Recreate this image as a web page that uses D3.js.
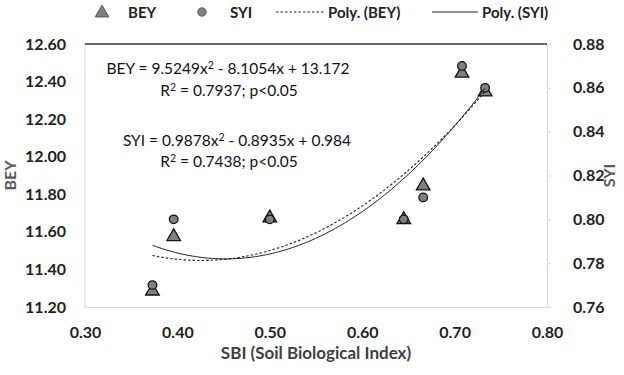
<!DOCTYPE html>
<html><head><meta charset="utf-8">
<script src="https://cdn.jsdelivr.net/npm/d3@7"></script>
<style>body{margin:0;background:#fff}svg{display:block}text{font-family:Lato,"Open Sans",sans-serif}</style>
</head><body>
<svg id="c" width="624" height="375"></svg>
<script>
// data
const sbi    = [0.373, 0.396, 0.500, 0.645, 0.666, 0.708, 0.733];
const bey    = [11.29, 11.58, 11.68, 11.67, 11.85, 12.45, 12.35];
const syi    = [0.770, 0.800, 0.800, 0.800, 0.810, 0.870, 0.860];
const beyPoly = [9.5249, -8.1054, 13.172];   // a, b, c of displayed trendline
const syiPoly = [0.9878, -0.8935, 0.984];
const xTicks = [0.30, 0.40, 0.50, 0.60, 0.70, 0.80];
const yTicksL = [11.20, 11.40, 11.60, 11.80, 12.00, 12.20, 12.40, 12.60];
const yTicksR = [0.76, 0.78, 0.80, 0.82, 0.84, 0.86, 0.88];
const equations = [
  ["BEY = 9.5249x", "2", " - 8.1054x + 13.172"],
  ["R", "2", " = 0.7937; p<0.05"],
  ["SYI = 0.9878x", "2", " - 0.8935x + 0.984"],
  ["R", "2", " = 0.7438; p<0.05"]
];
const legendLabels = ["BEY", "SYI", "Poly. (BEY)", "Poly. (SYI)"];

const svg = d3.select("#c");
const L = 85, R = 547, T = 44, B = 307;
const x = d3.scaleLinear().domain([0.30, 0.80]).range([L, R]);
const yL = d3.scaleLinear().domain([11.20, 12.60]).range([B, T]);
const yR = d3.scaleLinear().domain([0.76, 0.88]).range([B, T]);

// frame
svg.append("line").attr("x1", L).attr("x2", L).attr("y1", T).attr("y2", B).attr("stroke", "#d9d9d9").attr("stroke-width", 1.2);
// bottom axis
const gx = svg.append("g").attr("transform", `translate(0,${B})`)
  .call(d3.axisBottom(x).tickValues(xTicks).tickSize(0).tickPadding(20).tickFormat(d3.format(".2f")));
gx.select(".domain").attr("stroke", "#d9d9d9").attr("stroke-width", 1.2);
gx.selectAll("text").attr("font-size", 16).attr("font-weight", "bold").attr("fill", "#222").attr("font-family", "Lato");
// left axis
const gl = svg.append("g").attr("transform", `translate(${L},0)`)
  .call(d3.axisLeft(yL).tickValues(yTicksL).tickSize(0).tickPadding(19).tickFormat(d3.format(".2f")));
gl.select(".domain").remove();
gl.selectAll("text").attr("font-size", 16).attr("font-weight", "bold").attr("fill", "#222").attr("font-family", "Lato");
// right axis
const gr = svg.append("g").attr("transform", `translate(${R},0)`)
  .call(d3.axisRight(yR).tickValues(yTicksR).tickSize(4).tickPadding(22).tickFormat(d3.format(".2f")));
gr.select(".domain").attr("stroke", "#d9d9d9").attr("stroke-width", 1.2);
gr.selectAll(".tick line").attr("stroke", "#d9d9d9").attr("stroke-width", 1.2);
gr.selectAll("text").attr("font-size", 16).attr("font-weight", "bold").attr("fill", "#222").attr("font-family", "Lato");
// top dark border
svg.append("line").attr("x1", L).attr("x2", R).attr("y1", T).attr("y2", T).attr("stroke", "#333").attr("stroke-width", 1.6);

// axis titles
svg.append("text").attr("transform", `translate(16,${(T+B)/2}) rotate(-90)`).attr("text-anchor", "middle")
  .attr("font-size", 16).attr("font-weight", "bold").attr("fill", "#595959").text("BEY");
svg.append("text").attr("transform", `translate(615,${(T+B)/2}) rotate(-90)`).attr("text-anchor", "middle")
  .attr("font-size", 16).attr("font-weight", "bold").attr("fill", "#595959").text("SYI");
svg.append("text").attr("x", (L+R)/2).attr("y", 359).attr("text-anchor", "middle")
  .attr("font-size", 17).attr("font-weight", "bold").attr("fill", "#404040").text("SBI (Soil Biological Index)");

// markers
const tri = d3.symbol().type(d3.symbolTriangle).size(80);
const pts = sbi.map((s, i) => ({s, b: bey[i], y: syi[i]}));
svg.append("g").selectAll("path").data(pts).join("path")
  .attr("d", tri).attr("transform", d => `translate(${x(d.s)},${yL(d.b)+1})`)
  .attr("fill", "#808080").attr("stroke", "#111").attr("stroke-width", 1.3);
svg.append("g").selectAll("circle").data(pts).join("circle")
  .attr("cx", d => x(d.s)).attr("cy", d => yR(d.y)).attr("r", 4.3)
  .attr("fill", "#808080").attr("stroke", "#111").attr("stroke-width", 1.3);

// trendlines (from displayed polynomial coefficients)
const xs = d3.range(0, 101).map(i => sbi[0] + (sbi[sbi.length-1] - sbi[0]) * i / 100);
const poly = (c, v) => c[0]*v*v + c[1]*v + c[2];
svg.append("path").datum(xs).attr("fill", "none").attr("stroke", "#222").attr("stroke-width", 1.1)
  .attr("stroke-dasharray", "2.5,2")
  .attr("d", d3.line().x(v => x(v)).y(v => yL(poly(beyPoly, v))));
svg.append("path").datum(xs).attr("fill", "none").attr("stroke", "#222").attr("stroke-width", 1)
  .attr("d", d3.line().x(v => x(v)).y(v => yR(poly(syiPoly, v))));

// equations
const eqPos = [[228, 74], [229, 96], [237, 146], [229, 167]];
equations.forEach((parts, i) => {
  const t = svg.append("text").attr("x", eqPos[i][0]).attr("y", eqPos[i][1]).attr("text-anchor", "middle")
    .attr("font-size", 15.5).attr("fill", "#111");
  t.append("tspan").text(parts[0]);
  t.append("tspan").attr("dy", -5).attr("font-size", 10.5).text(parts[1]);
  t.append("tspan").attr("dy", 5).text(parts[2]);
});

// legend
const lg = svg.append("g");
lg.append("path").attr("d", tri).attr("transform", "translate(102,13)").attr("fill", "#808080").attr("stroke", "#555").attr("stroke-width", 1);
lg.append("circle").attr("cx", 202).attr("cy", 12).attr("r", 4.2).attr("fill", "#808080").attr("stroke", "#555").attr("stroke-width", 1);
lg.append("line").attr("x1", 276).attr("x2", 324).attr("y1", 12).attr("y2", 12).attr("stroke", "#222").attr("stroke-width", 1.1).attr("stroke-dasharray", "2.5,2");
lg.append("line").attr("x1", 432).attr("x2", 478).attr("y1", 12).attr("y2", 12).attr("stroke", "#222").attr("stroke-width", 1.1);
const lgX = [128, 230, 328, 482];
legendLabels.forEach((s, i) => {
  lg.append("text").attr("x", lgX[i]).attr("y", 17.5).attr("font-size", 15).attr("font-weight", "bold").attr("fill", "#222").text(s);
});
</script>
</body></html>
